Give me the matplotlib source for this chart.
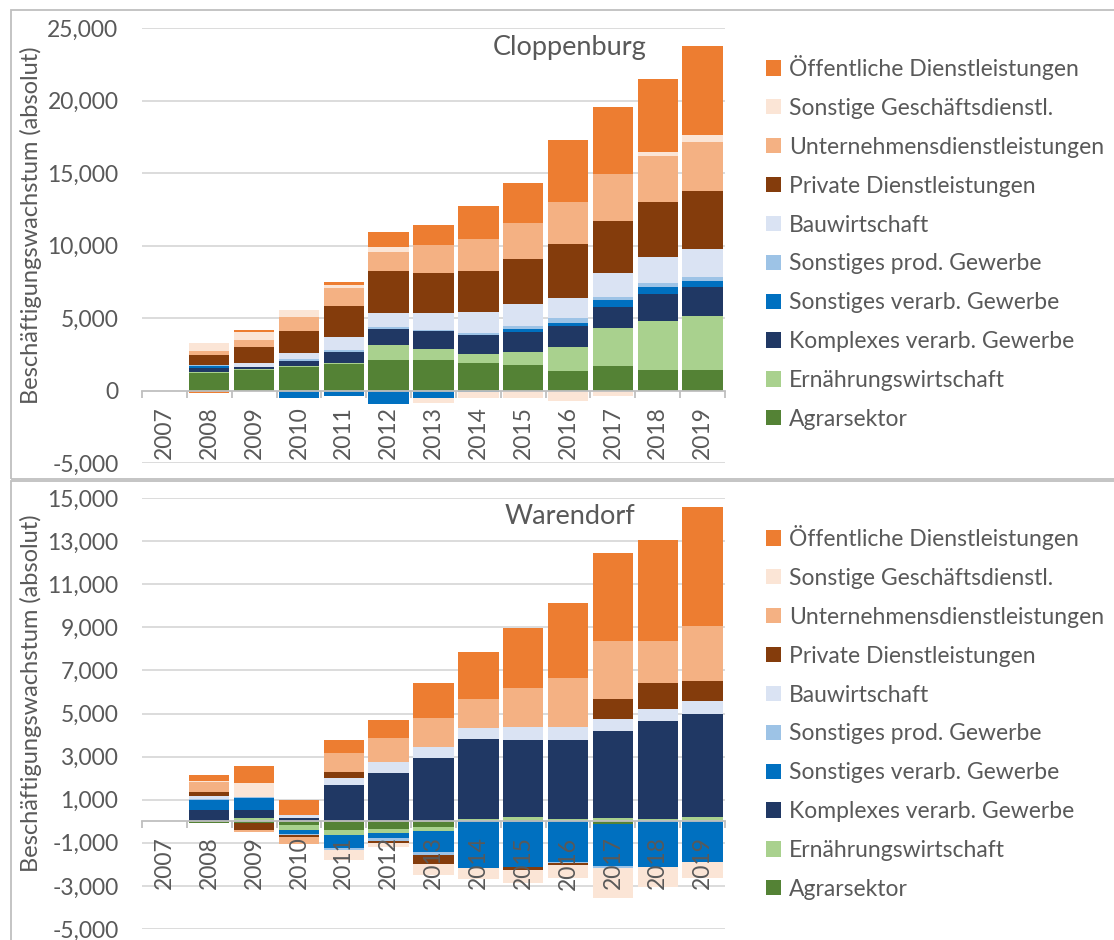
import matplotlib.pyplot as plt
from matplotlib.patches import Rectangle
from matplotlib.ticker import FuncFormatter
import numpy as np

plt.rcParams['font.family'] = ['Lato', 'DejaVu Sans']

jahre = [str(j) for j in range(2007, 2020)]

sektoren = ['Agrarsektor', 'Ernährungswirtschaft', 'Komplexes verarb. Gewerbe',
            'Sonstiges verarb. Gewerbe', 'Sonstiges prod. Gewerbe', 'Bauwirtschaft',
            'Private Dienstleistungen', 'Unternehmensdienstleistungen',
            'Sonstige Geschäftsdienstl.', 'Öffentliche Dienstleistungen']
farben = ['#548235', '#A9D18E', '#203864', '#0070C0', '#9DC3E6', '#DAE3F3',
          '#843C0C', '#F4B183', '#FBE5D6', '#ED7D31']

# Cloppenburg
agrar_c = [0, 1200, 1445, 1630, 1810, 2090, 2080, 1880, 1740, 1375, 1675, 1445, 1445]
ern_c = [0, 50, 30, 40, 115, 1080, 800, 640, 895, 1605, 2640, 3325, 3670]
kompl_c = [0, 320, 140, 370, 760, 1100, 1230, 1310, 1420, 1445, 1420, 1880, 2000]
sverarb_c = [0, 115, 0, -550, -345, -920, -530, -70, 185, 205, 505, 505, 460]
sprod_c = [0, 40, -60, 115, 115, 90, 40, 160, 230, 345, 185, 250, 275]
bau_c = [0, 50, 300, 460, 895, 1010, 1190, 1400, 1490, 1400, 1650, 1835, 1905]
priv_c = [0, 690, 1080, 1490, 2155, 2890, 2750, 2870, 3140, 3760, 3625, 3760, 3970]
untern_c = [0, 230, 460, 990, 1190, 1310, 1950, 2180, 2480, 2865, 3210, 3190, 3395]
sgesch_c = [0, 600, 575, 435, 230, 300, -340, -460, -530, -690, -345, 230, 480]
oeff_c = [0, -180, 140, 0, 205, 1060, 1375, 2290, 2750, 4265, 4655, 5070, 6190]

# Warendorf
agrar_w = [0, -80, -70, -170, -415, -340, -245, 30, 75, 0, -120, 0, 0]
ern_w = [0, 0, 140, -230, -200, -200, -215, 60, 110, 110, 150, 100, 185]
kompl_w = [0, 510, 400, 155, 1690, 2260, 2950, 3720, 3580, 3655, 4025, 4530, 4810]
sverarb_w = [0, 475, 540, -170, -615, -260, -965, -2190, -2100, -1870, -1950, -2140, -1910]
sprod_w = [0, 30, 45, -60, -110, -110, -120, 0, 0, -90, -110, 0, 0]
bau_w = [0, 140, 0, 120, 305, 505, 475, 505, 615, 600, 585, 585, 600]
priv_w = [0, 185, -350, -90, 290, -120, -460, 0, -170, -75, 890, 1200, 890]
untern_w = [0, 460, -75, -340, 860, 1075, 1380, 1380, 1800, 2290, 2705, 1950, 2580]
sgesch_w = [0, 45, 645, 0, -460, -185, -490, -490, -600, -600, -1380, -920, -720]
oeff_w = [0, 320, 815, 705, 615, 840, 1600, 2180, 2780, 3490, 4085, 4685, 5500]

werte_c = [agrar_c, ern_c, kompl_c, sverarb_c, sprod_c, bau_c, priv_c, untern_c, sgesch_c, oeff_c]
werte_w = [agrar_w, ern_w, kompl_w, sverarb_w, sprod_w, bau_w, priv_w, untern_w, sgesch_w, oeff_w]

grau = '#595959'
linie = '#D9D9D9'
W, H = 1114, 940
schrift = 16.5


def panel(ax, werte, titel, ymin, ymax, schritt, titel_y, legende_oben):
    x = np.arange(len(jahre))
    pos = np.zeros(len(jahre))
    neg = np.zeros(len(jahre))
    for name, farbe, w in zip(sektoren, farben, werte):
        w = np.array(w, float)
        p = np.where(w > 0, w, 0)
        n = np.where(w < 0, w, 0)
        ax.bar(x, p, 0.9, bottom=pos, color=farbe, label=name, lw=0)
        ax.bar(x, n, 0.9, bottom=neg, color=farbe, lw=0)
        pos += p
        neg += n

    for v in range(ymin, ymax + 1, schritt):
        if v != 0:
            ax.axhline(v, color=linie, lw=1.3, zorder=0.5)

    ax.set_xlim(-0.5, len(jahre) - 0.5)
    ax.set_ylim(ymin, ymax)
    for s in ['left', 'top', 'right']:
        ax.spines[s].set_visible(False)
    ax.spines['bottom'].set_position(('data', 0))
    ax.spines['bottom'].set_color('#BFBFBF')
    ax.spines['bottom'].set_linewidth(1.3)

    ax.set_xticks(x)
    ax.set_xticklabels(jahre, rotation=90)
    ax.set_xticks(np.arange(-0.5, len(jahre), 1), minor=True)
    ax.tick_params(axis='x', which='major', length=0, pad=11, labelsize=schrift, labelcolor=grau)
    ax.tick_params(axis='x', which='minor', length=5, width=1.3, color='#BFBFBF')

    ax.set_yticks(range(ymin, ymax + 1, schritt))
    ax.yaxis.set_major_formatter(FuncFormatter(lambda v, p: f'{v:,.0f}'))
    ax.tick_params(axis='y', length=0, pad=17, labelsize=schrift, labelcolor=grau)
    ax.set_ylabel('Beschäftigungswachstum (absolut)', fontsize=schrift + 0.5, color=grau)
    ax.yaxis.set_label_coords(-0.172, 0.546)

    fig.text(570 / W, 1 - titel_y / H, titel, ha='center', va='center', fontsize=19.5, color=grau)

    h, l = ax.get_legend_handles_labels()
    ax.legend(h[::-1], l[::-1], loc='upper left', bbox_to_anchor=(766 / W, 1 - legende_oben / H),
              bbox_transform=fig.transFigure, frameon=False, fontsize=schrift, labelcolor=grau,
              handlelength=0.65, handleheight=0.65, handletextpad=0.35, labelspacing=0.78,
              borderpad=0, borderaxespad=0)


fig = plt.figure(figsize=(W / 100, H / 100), dpi=100)

ax1 = fig.add_axes([142 / W, 1 - 463 / H, 583 / W, 435 / H])
panel(ax1, werte_c, 'Cloppenburg', -5000, 25000, 5000, 48, 55)

ax2 = fig.add_axes([142 / W, 1 - 929 / H, 583 / W, 431 / H])
panel(ax2, werte_w, 'Warendorf', -5000, 15000, 2000, 517, 525)

# Rahmen um die beiden Diagramme
fig.add_artist(Rectangle((11 / W, 1 - 479 / H), 1.2, 469 / H, transform=fig.transFigure,
                         fill=False, ec='#BFBFBF', lw=1.3))
fig.add_artist(Rectangle((11 / W, 1 - 960 / H), 1.2, 479 / H, transform=fig.transFigure,
                         fill=False, ec='#BFBFBF', lw=1.3))

plt.savefig('out.png', dpi=100)
